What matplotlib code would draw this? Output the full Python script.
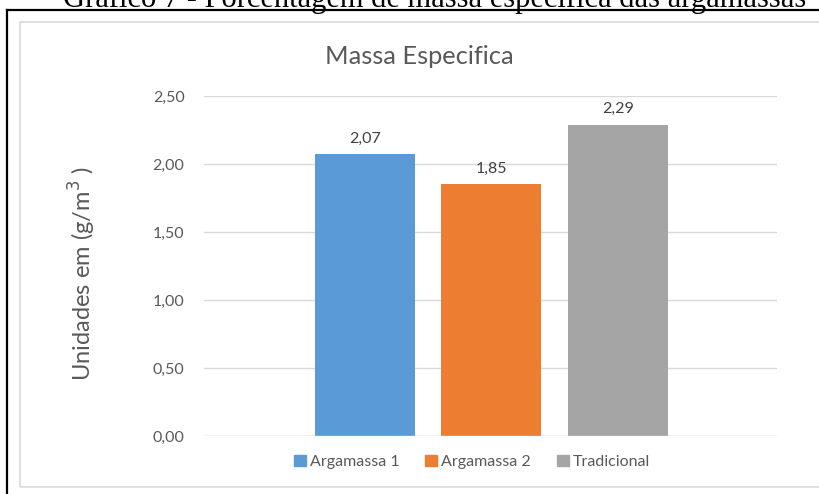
import matplotlib
matplotlib.use("Agg")
import matplotlib.pyplot as plt
from matplotlib.patches import Rectangle
from matplotlib.lines import Line2D

series = ["Argamassa 1", "Argamassa 2", "Tradicional"]
values = [2.07, 1.85, 2.29]
labels = ["2,07", "1,85", "2,29"]
yticks = [0.0, 0.5, 1.0, 1.5, 2.0, 2.5]
ytick_labels = ["0,00", "0,50", "1,00", "1,50", "2,00", "2,50"]
colors = ["#5b9bd5", "#ed7d31", "#a5a5a5"]

W, H = 820, 494
fig = plt.figure(figsize=(W / 100, H / 100), dpi=100)
fig.patch.set_facecolor("white")

def fx(px):
    return px / W

def fy(py):
    return 1 - py / H

font = ["Lato", "DejaVu Sans"]
gray = "#595959"
small = 11.5

# caption (clipped at top)
fig.text(fx(435), fy(7), "Gráfico 7 - Porcentagem de massa específica das argamassas",
         family=["Liberation Serif"], fontsize=22, ha="center", va="baseline", color="black")

# black frame lines
fig.add_artist(Line2D([fx(7.5), fx(818)], [fy(10.5), fy(10.5)], color="black", lw=1.6))
fig.add_artist(Line2D([fx(7.5), fx(7.5)], [fy(10.5), fy(494)], color="black", lw=1.6))

# chart area box
fig.add_artist(Rectangle((fx(20), fy(487)), fx(830) - fx(20), fy(22) - fy(487),
                         transform=fig.transFigure, fill=False, edgecolor="#d9d9d9", lw=1.2))

ax = fig.add_axes([fx(204), fy(436), fx(777) - fx(204), fy(96) - fy(436)])
ax.set_xlim(-0.5, 0.5)
ax.set_ylim(0, 2.5)

unit = 1 / 573.0
offset = 126.5 * unit
width = 100 * unit
for i, (s, v, c, l) in enumerate(zip(series, values, colors, labels)):
    x = (i - 1) * offset + 0.0015
    ax.bar(x, v, width=width, color=c, label=s, zorder=3)
    ax.annotate(l, (x, v), xytext=(0, 6), textcoords="offset points", ha="center",
                va="bottom", fontsize=small, color="#404040", family=font)

ax.set_yticks(yticks)
ax.set_yticklabels(ytick_labels, family=font, fontsize=small, color=gray)
ax.tick_params(axis="y", length=0, pad=14)
ax.set_xticks([])
ax.grid(axis="y", color="#d9d9d9", lw=1, zorder=0)
for sp in ax.spines.values():
    sp.set_visible(False)
ax.axhline(0, color="#d9d9d9", lw=1, zorder=4)

fig.text(fx(419), fy(57), "Massa Especifica", family=font, fontsize=18.3, color=gray,
         ha="center", va="center")
fig.text(fx(82), fy(274), "Unidades em (g/m$^3$ )", family=font, fontsize=17,
         color=gray, ha="center", va="center", rotation=90)

handles = [Rectangle((0, 0), 1, 1, color=c) for c in colors]
fig.legend(handles, series, loc="center", bbox_to_anchor=(fx(472), fy(462)), ncol=3,
           frameon=False, prop={"family": font, "size": small}, labelcolor=gray,
           handlelength=0.75, handleheight=0.75, handletextpad=0.25, columnspacing=1.6)

fig.savefig("out.png", dpi=100)
